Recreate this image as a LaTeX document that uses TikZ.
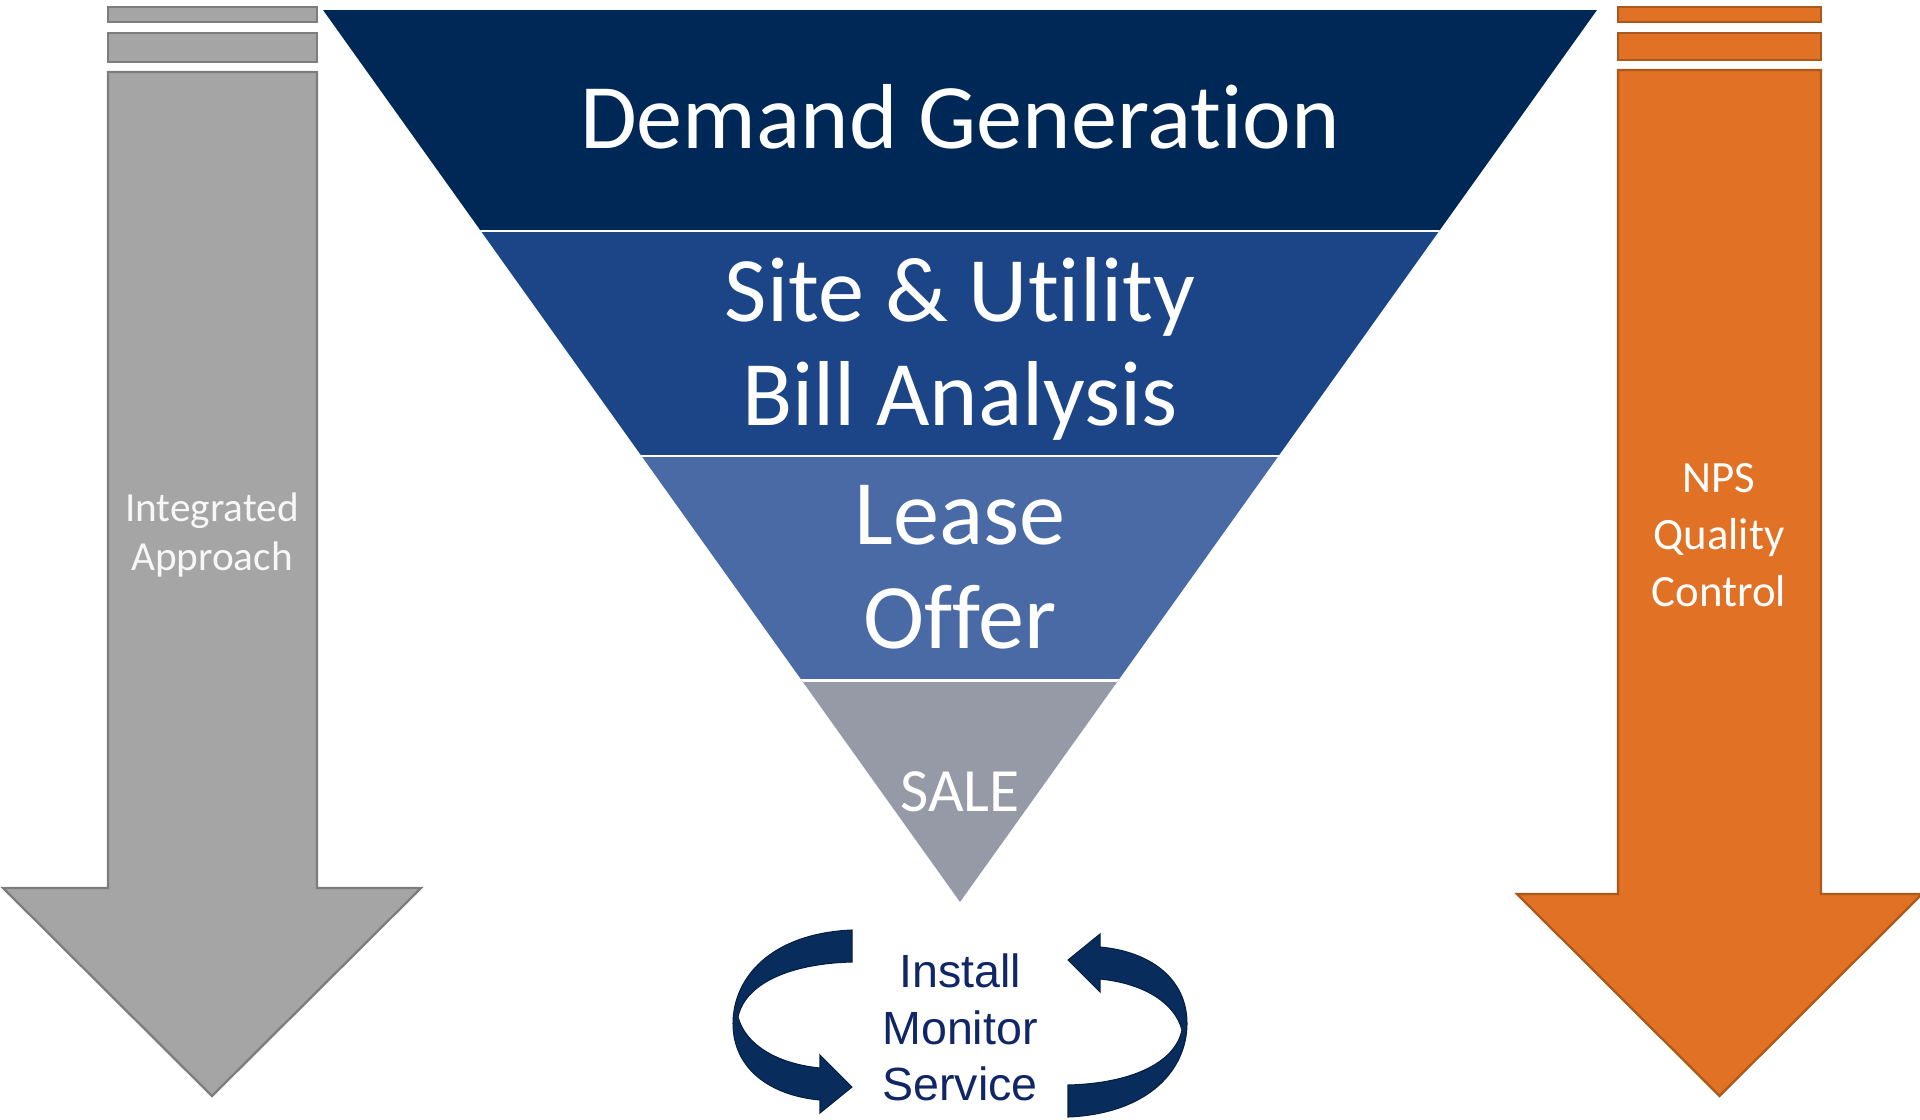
\documentclass[tikz,border=0pt]{standalone}
\usepackage{fontspec}
\setmainfont{Carlito}[Ligatures={NoCommon}]
\newfontfamily\arialfont{Liberation Sans}
\usepackage{tikz}
\usetikzlibrary{positioning}
\definecolor{demandblue}{RGB}{0,40,86}
\definecolor{siteblue}{RGB}{28,69,136}
\definecolor{leaseblue}{RGB}{74,106,166}
\definecolor{salegray}{RGB}{150,154,167}
\definecolor{arrowgray}{RGB}{165,165,165}
\definecolor{edgegray}{RGB}{125,125,125}
\definecolor{qcorange}{RGB}{225,113,36}
\definecolor{edgeorange}{RGB}{172,88,26}
\definecolor{loopnavy}{RGB}{8,44,92}
\definecolor{textnavy}{RGB}{16,38,102}

\begin{document}
\begin{tikzpicture}[x=0.02cm, y=-0.02cm,
  stage/.style={text=white, align=center, font=\fontsize{52.5}{59}\selectfont},
  sidelabel/.style={align=center},
  gap/.style={draw=white, line width=1.7pt},
  grayshape/.style={fill=arrowgray, draw=edgegray, line width=1.3pt},
  orangeshape/.style={fill=qcorange, draw=edgeorange, line width=1.3pt},
  loopband/.style={fill=loopnavy, draw=loopnavy!70!black, line width=0.6pt},
  looparrow/.pic={
    \path[loopband] (-108,-93.5) .. controls (-190,-90) and (-227,-45) .. (-227,0)
      .. controls (-227,45) and (-190,72) .. (-140,76.5)
      -- (-140,89.5) -- (-108,63.5) -- (-140,31.5) -- (-140,44.5)
      .. controls (-185,40) and (-215,20) .. (-222,-6.5)
      .. controls (-215,-40) and (-170,-60) .. (-108,-61.5) -- cycle;
  }]
\useasboundingbox (0,0) rectangle (1920,1119);

% Funnel
\begin{scope}
  \clip (323,10) -- (1597,10) -- (960,902) -- cycle;
  \fill[demandblue] (0,0) rectangle (1920,231);
  \fill[siteblue] (0,231) rectangle (1920,456);
  \fill[leaseblue] (0,456) rectangle (1920,680);
  \fill[salegray] (0,680) rectangle (1920,910);
  \foreach \y in {231,456,680}
    \draw[gap] (0,\y) -- (1920,\y);
\end{scope}

\node[stage] (demand) at (960,117) {Demand Generation};
\node[stage] (site) at (960,349) {Site \& Utility\\Bill Analysis};
\node[stage] (lease) at (960,567) {Lease\\Offer};
\node[stage, font=\fontsize{35}{40}\selectfont] (sale) at (960,792) {SALE};

% Side arrows
\draw[grayshape] (108,7) rectangle (317,22);
\draw[grayshape] (108,33) rectangle (317,62);
\draw[grayshape] (108,72) -- (317,72) -- (317,888) -- (421,888) -- (212,1096)
  -- (3,888) -- (108,888) -- cycle;
\node[sidelabel, text=white!94!gray, font=\fontsize{23.5}{27.5}\selectfont]
  (integrated) at (212,535) {Integrated\\Approach};

\draw[orangeshape] (1618,7) rectangle (1821,22);
\draw[orangeshape] (1618,33) rectangle (1821,60);
\draw[orangeshape] (1618,70) -- (1821,70) -- (1821,894) -- (1922,894) -- (1719.5,1096)
  -- (1517,894) -- (1618,894) -- cycle;
\node[sidelabel, text=white, font=\fontsize{25.5}{32.5}\selectfont]
  (nps) at (1719,535) {NPS\\Quality\\Control};

% Service cycle
\pic (loopleft) at (960,1023.5) {looparrow};
\pic[rotate=180] (loopright) at (960,1023.5) {looparrow};
\node[align=center, text=textnavy, font=\arialfont\fontsize{26.5}{32}\selectfont]
  (service) at (960,1027.5) {Install\\Monitor\\Service};
\end{tikzpicture}
\end{document}
